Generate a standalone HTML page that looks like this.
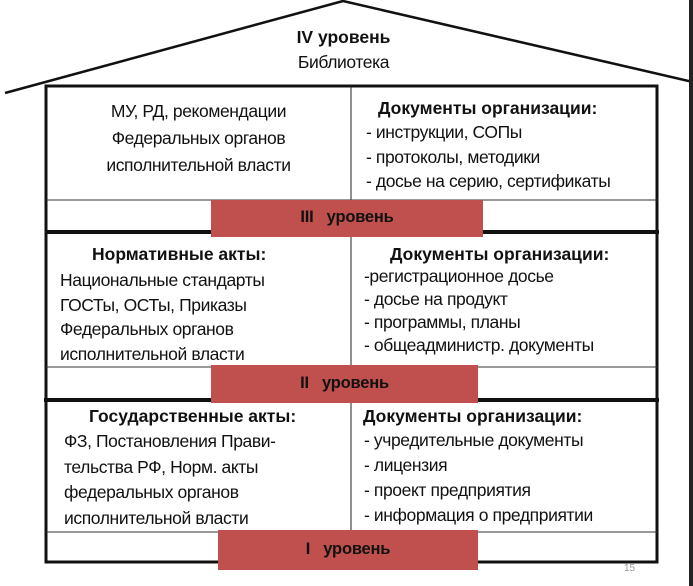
<!DOCTYPE html>
<html><head><meta charset="utf-8"><style>
body{margin:0;width:693px;height:586px;background:#fff;position:relative;overflow:hidden;font-family:"Liberation Sans",sans-serif;color:#111}
.t{position:absolute;font-size:17.5px;letter-spacing:-0.4px;white-space:nowrap;line-height:20px}
.b{font-weight:bold;font-size:17.5px;letter-spacing:0px}
.red{position:absolute;background:#c0504d;font-weight:bold;font-size:16.5px;text-align:center;letter-spacing:-0.2px}
</style></head><body>
<svg width="693" height="586" style="position:absolute;left:0;top:0">
<polyline points="5,93 343,1 693,82" fill="none" stroke="#111" stroke-width="2.5"/>
<rect x="46" y="86" width="611" height="476" fill="none" stroke="#111" stroke-width="3"/>
<line x1="351" y1="86" x2="351" y2="200" stroke="#222" stroke-width="1"/>
<line x1="351" y1="232" x2="351" y2="367" stroke="#222" stroke-width="1"/>
<line x1="351" y1="400" x2="351" y2="532" stroke="#222" stroke-width="1"/>
<line x1="46" y1="200" x2="657" y2="200" stroke="#333" stroke-width="1"/>
<line x1="46" y1="367" x2="657" y2="367" stroke="#333" stroke-width="1"/>
<line x1="46" y1="532" x2="657" y2="532" stroke="#333" stroke-width="1"/>
<line x1="46" y1="232" x2="659" y2="232" stroke="#111" stroke-width="4"/>
<line x1="44" y1="400" x2="659" y2="400" stroke="#111" stroke-width="4"/>
</svg>
<div style="position:absolute;right:0;top:0;width:4px;height:586px;background:#222"></div>
<div class="t b" style="left:0;width:687px;text-align:center;top:27px">IV уровень</div>
<div class="t" style="left:0;width:687px;text-align:center;top:52px">Библиотека</div>

<div class="t" style="left:46px;width:305px;text-align:center;top:98px;line-height:27px">МУ, РД, рекомендации<br>Федеральных органов<br>исполнительной власти</div>
<div class="t b" style="left:378px;top:98px">Документы организации:</div>
<div class="t" style="left:366px;top:120px;line-height:24.5px">- инструкции, СОПы<br>- протоколы, методики<br>- досье на серию, сертификаты</div>

<div class="red" style="left:211px;top:200px;width:272px;height:37px;line-height:34px">III&nbsp;&nbsp;&nbsp;уровень</div>

<div class="t b" style="left:92px;top:244px">Нормативные акты:</div>
<div class="t" style="left:60px;top:268px;line-height:24.5px">Национальные стандарты<br>ГОСТы, ОСТы, Приказы<br>Федеральных органов<br>исполнительной власти</div>
<div class="t b" style="left:390px;top:244px">Документы организации:</div>
<div class="t" style="left:364px;top:265px;line-height:23px">-регистрационное досье<br>- досье на продукт<br>- программы, планы<br>- общеадминистр. документы</div>

<div class="red" style="left:211px;top:365px;width:267px;height:38px;line-height:36px">II&nbsp;&nbsp;&nbsp;уровень</div>

<div class="t b" style="left:89px;top:406px">Государственные акты:</div>
<div class="t" style="left:64px;top:429px;line-height:25.5px">ФЗ, Постановления Прави-<br>тельства РФ, Норм. акты<br>федеральных органов<br>исполнительной власти</div>
<div class="t b" style="left:363px;top:406px">Документы организации:</div>
<div class="t" style="left:364px;top:428px;line-height:25px">- учредительные документы<br>- лицензия<br>- проект предприятия<br>- информация о предприятии</div>

<div class="red" style="left:218px;top:530px;width:260px;height:40px;line-height:38px">I&nbsp;&nbsp;&nbsp;уровень</div>
<div style="position:absolute;left:624px;top:563px;font-size:10px;color:#999">15</div>
</body></html>
